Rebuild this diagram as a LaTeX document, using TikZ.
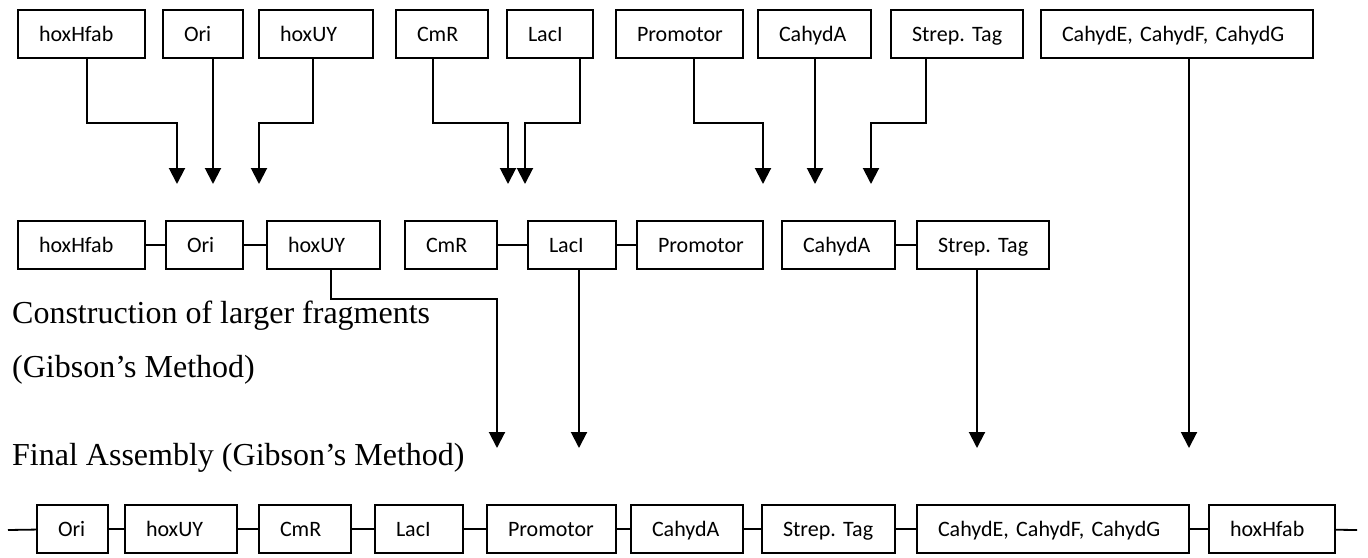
\documentclass[tikz,border=0pt]{standalone}
\usepackage{fontspec}
\setmainfont{Liberation Serif}
\newfontfamily\boxfont{Carlito}
\usetikzlibrary{arrows.meta}
\frenchspacing
\tikzset{
  gb/.style={draw, line width=2pt, minimum height=48pt, inner xsep=21pt, inner ysep=0pt,
    align=left, font=\boxfont\fontsize{22}{25}\selectfont\frenchspacing, text height=14pt, text depth=0pt},
  conn/.style={line width=1.8pt},
  arr/.style={line width=2pt, -{Triangle[length=16pt,width=16pt]}},
  lbl/.style={anchor=base west, inner sep=0pt, font=\fontsize{32}{36}\selectfont}
}
\newcommand\gbox[6]{%
  \pgfmathsetmacro\gbw{#3-#2}%
  \pgfmathsetmacro\gbtw{#3-#2-42}%
  \node[gb, minimum width=\gbw pt, text width=\gbtw pt] (#1) at ({(#2+#3)/2},{(#4+#5)/2}) {\mbox{#6}};%
}
\begin{document}
\begin{tikzpicture}[x=1pt,y=-1pt]
\useasboundingbox (0,0) rectangle (1368,557);
% top row
\gbox{t1}{18}{145}{10}{58}{hoxHfab}
\gbox{t2}{163}{243}{10}{58}{Ori}
\gbox{t3}{259}{373}{10}{58}{hoxUY}
\gbox{t4}{396}{488}{10}{58}{CmR}
\gbox{t5}{507}{593}{10}{58}{LacI}
\gbox{t6}{616}{743}{10}{58}{Promotor}
\gbox{t7}{758}{871}{10}{58}{CahydA}
\gbox{t8}{891}{1023}{10}{58}{Strep. Tag}
\gbox{t9}{1041}{1313}{10}{58}{CahydE, CahydF, CahydG}
% middle row
\gbox{m1}{18}{145}{221}{269}{hoxHfab}
\gbox{m2}{166}{243}{221}{269}{Ori}
\gbox{m3}{267}{380}{221}{269}{hoxUY}
\gbox{m4}{405}{497}{221}{269}{CmR}
\gbox{m5}{528}{616}{221}{269}{LacI}
\gbox{m6}{637}{763}{221}{269}{Promotor}
\gbox{m7}{782}{895}{221}{269}{CahydA}
\gbox{m8}{917}{1049}{221}{269}{Strep. Tag}
% final row
\gbox{f1}{37}{108}{505}{553}{Ori}
\gbox{f2}{125}{237}{505}{553}{hoxUY}
\gbox{f3}{259}{351}{505}{553}{CmR}
\gbox{f4}{375}{463}{505}{553}{LacI}
\gbox{f5}{487}{616}{505}{553}{Promotor}
\gbox{f6}{631}{743}{505}{553}{CahydA}
\gbox{f7}{762}{895}{505}{553}{Strep. Tag}
\gbox{f8}{917}{1189}{505}{553}{CahydE, CahydF, CahydG}
\gbox{f9}{1209}{1335}{505}{553}{hoxHfab}
% labels
\node[lbl] (l1) at (12,323) {Construction of larger fragments};
\node[lbl] (l2) at (12,377) {(Gibson’s Method)};
\node[lbl] (l3) at (12,465) {Final Assembly (Gibson’s Method)};
% arrow end coordinates
\coordinate (a1) at (177,184);
\coordinate (a2) at (213,184);
\coordinate (a3) at (259,184);
\coordinate (a4) at (508,184);
\coordinate (a5) at (525,184);
\coordinate (a6) at (763,184);
\coordinate (a7) at (815,184);
\coordinate (a8) at (871,184);
\coordinate (b1) at (497,448);
\coordinate (b2) at (579,448);
\coordinate (b3) at (977,448);
\coordinate (b4) at (1189,448);
\coordinate (sl) at (8,530);
\coordinate (sr) at (1357,530);
% top arrows
\draw[arr] ([xshift=5.5pt]t1.south) -- ++(0,64) -| (a1);
\draw[arr] ([xshift=10pt]t2.south) -- (a2);
\draw[arr] ([xshift=-3pt]t3.south) -- ++(0,64) -| (a3);
\draw[arr] ([xshift=-9pt]t4.south) -- ++(0,64) -| (a4);
\draw[arr] ([xshift=30pt]t5.south) -- ++(0,64) -| (a5);
\draw[arr] ([xshift=14.5pt]t6.south) -- ++(0,64) -| (a6);
\draw[arr] ([xshift=0.5pt]t7.south) -- (a7);
\draw[arr] ([xshift=-31pt]t8.south) -- ++(0,64) -| (a8);
\draw[arr] ([xshift=12pt]t9.south) -- (b4);
% middle connectors
\draw[conn] (m1) -- (m2);
\draw[conn] (m2) -- (m3);
\draw[conn] (m4) -- (m5);
\draw[conn] (m5) -- (m6);
\draw[conn] (m7) -- (m8);
% middle arrows
\draw[arr] ([xshift=7.5pt]m3.south) -- ++(0,29) -| (b1);
\draw[arr] ([xshift=7pt]m5.south) -- (b2);
\draw[arr] ([xshift=-6pt]m8.south) -- (b3);
% final connectors
\draw[conn] (sl) -- (f1);
\draw[conn] (f1) -- (f2);
\draw[conn] (f2) -- (f3);
\draw[conn] (f3) -- (f4);
\draw[conn] (f4) -- (f5);
\draw[conn] (f5) -- (f6);
\draw[conn] (f6) -- (f7);
\draw[conn] (f7) -- (f8);
\draw[conn] (f8) -- (f9);
\draw[conn] (f9) -- (sr);
\end{tikzpicture}
\end{document}
